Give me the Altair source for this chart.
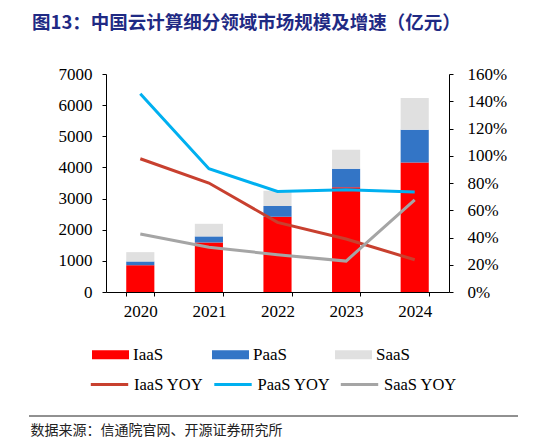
import altair as alt
import pandas as pd

# values
years = ["2020", "2021", "2022", "2023", "2024"]
iaas = [860, 1590, 2420, 3360, 4160]
paas = [120, 195, 340, 600, 1050]
saas = [300, 405, 490, 610, 1020]
iaas_yoy = [97.8, 80.0, 51.1, 38.9, 23.7]
paas_yoy = [145.5, 90.5, 73.8, 75.0, 73.4]
saas_yoy = [42.6, 32.8, 27.4, 22.7, 67.7]

bar_names = ["IaaS", "PaaS", "SaaS"]
bar_colors = ["#ff0000", "#3375c6", "#e0e0e0"]
line_names = ["IaaS YOY", "PaaS YOY", "SaaS YOY"]
line_colors = ["#c8402f", "#00b0f0", "#a5a5a5"]

# build long tables
rows = []
for i, y in enumerate(years):
    for k, (name, vals) in enumerate(zip(bar_names, [iaas, paas, saas])):
        rows.append({"year": y, "type": name, "value": vals[i], "ord": k})
dfBars = pd.DataFrame(rows)

rows = []
for i, y in enumerate(years):
    for name, vals in zip(line_names, [iaas_yoy, paas_yoy, saas_yoy]):
        rows.append({"year": y, "type": name, "yoy": vals[i]})
dfLines = pd.DataFrame(rows)

serif = "Liberation Serif"
cjk = "Noto Sans CJK SC"

xAxis = alt.Axis(
    title="数据来源：信通院官网、开源证券研究所",
    titleX=-76, titleY=138, titleAlign="left", titleBaseline="middle",
    titleFont=cjk, titleFontSize=14, titleFontWeight="normal", titleColor="#222",
    labelAngle=0, tickBand="extent", tickSize=4, labelPadding=7,
)
xScale = alt.Scale(paddingInner=0.59, paddingOuter=0.295)

bars = alt.Chart(dfBars).mark_bar().encode(
    x=alt.X("year:N", axis=xAxis, scale=xScale, sort=years),
    y=alt.Y("value:Q", stack="zero",
            scale=alt.Scale(domain=[0, 7000]),
            axis=alt.Axis(values=list(range(0, 7001, 1000)), title=None,
                          format="d", tickSize=4, labelPadding=10)),
    color=alt.Color("type:N",
                    scale=alt.Scale(domain=bar_names, range=bar_colors),
                    legend=alt.Legend(
                        orient="none", legendX=-14, legendY=262, title=None,
                        direction="horizontal", columns=3, columnPadding=48,
                        symbolType="M-1,-0.24L1,-0.24L1,0.24L-1,0.24Z",
                        symbolSize=1369, symbolStrokeWidth=0, labelOffset=4,
                        labelFont=serif, labelFontSize=17, labelColor="#000",
                        padding=0)),
    order=alt.Order("ord:Q"),
)

lines = alt.Chart(dfLines).mark_line(strokeWidth=3).encode(
    x=alt.X("year:N", sort=years),
    y=alt.Y("yoy:Q", scale=alt.Scale(domain=[0, 160]),
            axis=alt.Axis(orient="right", values=list(range(0, 161, 20)),
                          labelExpr="datum.value + '%'", title=None,
                          tickSize=4, labelPadding=14)),
    color=alt.Color("type:N",
                    scale=alt.Scale(domain=line_names, range=line_colors),
                    legend=alt.Legend(
                        orient="none", legendX=-17, legendY=290, title=None,
                        direction="horizontal", columns=3, columnPadding=3.5,
                        symbolType="stroke", symbolSize=1400,
                        symbolStrokeWidth=3, labelOffset=4,
                        labelFont=serif, labelFontSize=16.5, labelColor="#000",
                        padding=0)),
)

# separator line above the source note
sep = alt.Chart(pd.DataFrame({"a": [0]})).mark_rule(color="#222", strokeWidth=1).encode(
    x=alt.value(-77), x2=alt.value(412), y=alt.value(342)
)

chart = alt.layer(bars, lines, sep).resolve_scale(
    y="independent", color="independent"
).properties(
    width=343,
    height=218,
    autosize=alt.AutoSizeParams(type="none"),
    padding={"left": 98, "top": 66, "right": 89, "bottom": 148},
    title=alt.TitleParams(
        "图13：中国云计算细分领域市场规模及增速（亿元）",
        anchor="start", frame="group", dx=-74, offset=33,
        font=cjk, fontSize=18.5, fontWeight="bold", color="#1f2a84",
    ),
).configure_view(
    stroke=None
).configure_axis(
    grid=False, domainColor="#000", tickColor="#000",
    labelFont=serif, labelFontSize=17, labelColor="#000",
)

chart.save("out.html", embed_options={"renderer": "svg", "actions": False})
